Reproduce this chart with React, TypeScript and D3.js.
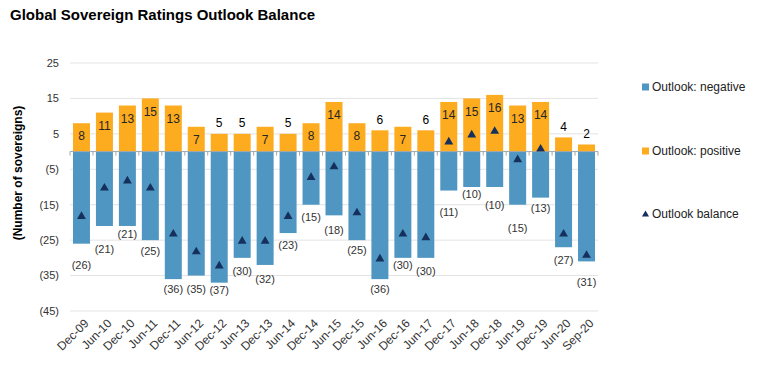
import React from "react";
import * as d3 from "d3";

const periods = [
  "Dec-09", "Jun-10", "Dec-10", "Jun-11", "Dec-11", "Jun-12", "Dec-12", "Jun-13",
  "Dec-13", "Jun-14", "Dec-14", "Jun-15", "Dec-15", "Jun-16", "Dec-16", "Jun-17",
  "Dec-17", "Jun-18", "Dec-18", "Jun-19", "Dec-19", "Jun-20", "Sep-20",
];
const positive = [8, 11, 13, 15, 13, 7, 5, 5, 7, 5, 8, 14, 8, 6, 7, 6, 14, 15, 16, 13, 14, 4, 2];
const negative = [26, 21, 21, 25, 36, 35, 37, 30, 32, 23, 15, 18, 25, 36, 30, 30, 11, 10, 10, 15, 13, 27, 31];
const balance = [-18, -10, -8, -10, -23, -28, -32, -25, -25, -18, -7, -4, -17, -30, -23, -24, 3, 5, 6, -2, 1, -23, -29];
const yTicks = [25, 15, 5, -5, -15, -25, -35, -45];

// label nudges below the negative bars (px), as placed in the original
const negLabelGap = [21, 23, 8, 11, 10, 14, 7, 13, 14, 12, 12, 15, 10, 10, 7, 13, 22, 7, 18, 23, 11, 13, 21];

const W = 761;
const H = 366;
const margin = { left: 70, right: 163, top: 63, bottom: 55 };
const BLUE = "#4f97c2";
const ORANGE = "#fdab1f";
const NAVY = "#15305c";
const FONT = "'Liberation Sans', Arial, sans-serif";

const fmt = (v: number) => (v < 0 ? `(${Math.abs(v)})` : `${v}`);

export default function App() {
  const x = d3
    .scaleBand<string>()
    .domain(periods)
    .range([margin.left, W - margin.right])
    .paddingInner(0.26)
    .paddingOuter(0.13);
  const y = d3.scaleLinear().domain([-45, 25]).range([H - margin.bottom, margin.top]);
  const bw = x.bandwidth();
  const tri = d3.symbol(d3.symbolTriangle, 34)();
  const step = x.step();

  return (
    <svg width={W} height={H} style={{ position: "absolute", left: 0, top: 0, background: "#fff" }} fontFamily={FONT}>
      <text x={10} y={20} fontSize={15} fontWeight="bold" fill="#000">
        Global Sovereign Ratings Outlook Balance
      </text>

      {/* gridlines + y labels */}
      {yTicks.map((t) => (
        <g key={t}>
          <line x1={margin.left} x2={W - margin.right} y1={y(t)} y2={y(t)} stroke="#e3e3e3" />
          <text x={59} y={y(t)} dy="0.35em" textAnchor="end" fontSize={11} fill="#333">
            {fmt(t)}
          </text>
        </g>
      ))}

      <text
        transform={`translate(22,${(margin.top + H - margin.bottom) / 2 - 14}) rotate(-90)`}
        textAnchor="middle"
        fontSize={12}
        fontWeight="bold"
        fill="#000"
      >
        (Number of sovereigns)
      </text>

      {/* bars */}
      {periods.map((p, i) => (
        <g key={p}>
          <rect x={x(p)} y={y(positive[i])} width={bw} height={y(0) - y(positive[i])} fill={ORANGE} />
          <rect x={x(p)} y={y(0)} width={bw} height={y(-negative[i]) - y(0)} fill={BLUE} />
        </g>
      ))}

      {/* zero axis with ticks */}
      <line x1={margin.left} x2={W - margin.right} y1={y(0)} y2={y(0)} stroke="#a6a6a6" />
      {d3.range(periods.length + 1).map((k) => {
        const xx = margin.left + k * step;
        return <line key={k} x1={xx} x2={xx} y1={y(0)} y2={y(0) + 4} stroke="#a6a6a6" />;
      })}

      {/* balance markers */}
      {periods.map((p, i) => (
        <path key={p} d={tri!} transform={`translate(${x(p)! + bw / 2},${y(balance[i]) + 1})`} fill={NAVY} />
      ))}

      {/* positive labels */}
      {periods.map((p, i) => {
        const inside = positive[i] >= 7;
        const top = y(positive[i]);
        return (
          <text
            key={p}
            x={x(p)! + bw / 2}
            y={inside ? top + 13 : top - 11}
            dy="0.35em"
            textAnchor="middle"
            fontSize={12}
            fill={inside ? "#262626" : "#000"}
          >
            {positive[i]}
          </text>
        );
      })}

      {/* negative labels */}
      {periods.map((p, i) => (
        <text
          key={p}
          x={x(p)! + bw / 2}
          y={y(-negative[i]) + negLabelGap[i]}
          dy="0.35em"
          textAnchor="middle"
          fontSize={11}
          fill="#333"
        >
          {fmt(-negative[i])}
        </text>
      ))}

      {/* x labels */}
      {periods.map((p) => (
        <text
          key={p}
          transform={`translate(${x(p)! + bw / 2 + 5},${H - margin.bottom + 10}) rotate(-45)`}
          textAnchor="end"
          dy="0.35em"
          fontSize={12}
          fill="#333"
        >
          {p}
        </text>
      ))}

      {/* legend */}
      {[
        { label: "Outlook: negative", color: BLUE, y: 87, kind: "sq" },
        { label: "Outlook: positive", color: ORANGE, y: 151, kind: "sq" },
        { label: "Outlook balance", color: NAVY, y: 214, kind: "tri" },
      ].map((l) => (
        <g key={l.label}>
          {l.kind === "sq" ? (
            <rect x={642} y={l.y - 3.5} width={7} height={7} fill={l.color} />
          ) : (
            <path d={d3.symbol(d3.symbolTriangle, 22)()!} transform={`translate(645.5,${l.y + 0.5})`} fill={l.color} />
          )}
          <text x={652} y={l.y} dy="0.35em" fontSize={12} fill="#222">
            {l.label}
          </text>
        </g>
      ))}
    </svg>
  );
}
